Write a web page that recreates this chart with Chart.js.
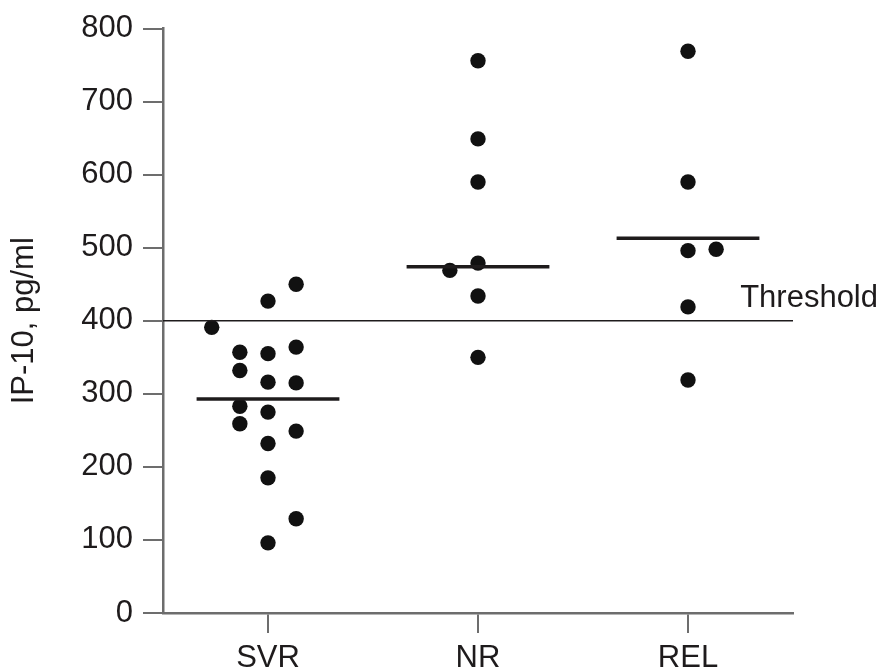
<!DOCTYPE html>
<html>
<head>
<meta charset="utf-8">
<script src="https://cdn.jsdelivr.net/npm/chart.js@4.4.0/dist/chart.umd.min.js"></script>
<style>
  html, body { margin: 0; padding: 0; background: #fff; }
  #wrap { width: 880px; height: 672px; position: relative; }
</style>
</head>
<body>
<div id="wrap"><canvas id="ip10Chart"></canvas></div>
<script>
// groups on the x axis
const groups = ['SVR', 'NR', 'REL'];

// IP-10 values (pg/ml) per group
const svrValues = [450, 427, 391, 357, 355, 364, 332, 316, 315, 283, 275, 259, 249, 232, 185, 129, 96];
const nrValues = [756, 649, 590, 479, 469, 434, 350];
const relValues = [769, 590, 496, 498, 419, 319];

// column slot of each dot inside its group (dots side by side)
const svrSlots = [1, 0, -2, -1, 0, 1, -1, 0, 1, -1, 0, -1, 1, 0, 0, 1, 0];
const nrSlots = [0, 0, 0, 0, -1, 0, 0];
const relSlots = [0, 0, 0, 1, 0, 0];

// medians and cut-off
const medians = [293, 474, 513];
const threshold = 400;

const yTicks = [0, 100, 200, 300, 400, 500, 600, 700, 800];

const slotStep = 0.134;
const medianHalf = 0.34;
const ink = '#1e1b1c';
const axisGray = '#6d6d6d';
const fontFamily = "'Liberation Sans', Arial, sans-serif";
const fontSize = 31;

function points(values, slots, groupIndex) {
  return values.map((v, i) => ({ x: groupIndex + 1 + slots[i] * slotStep, y: v }));
}

let datasets = [];

datasets.push({
  type: 'line',
  label: 'Threshold',
  data: [{ x: 0.5, y: threshold }, { x: groups.length + 0.5, y: threshold }],
  borderColor: ink,
  borderWidth: 1.6,
  pointRadius: 0,
  fill: false
});

medians.forEach((m, i) => {
  datasets.push({
    type: 'line',
    label: groups[i] + ' median',
    data: [{ x: i + 1 - medianHalf, y: m }, { x: i + 1 + medianHalf, y: m }],
    borderColor: ink,
    borderWidth: 3.5,
    pointRadius: 0,
    fill: false
  });
});

[[svrValues, svrSlots], [nrValues, nrSlots], [relValues, relSlots]].forEach((pair, i) => {
  datasets.push({
    type: 'scatter',
    label: groups[i],
    data: points(pair[0], pair[1], i),
    backgroundColor: '#111',
    borderWidth: 0,
    pointRadius: 7.7,
    clip: false
  });
});

// label of the threshold line, above its right end
const thresholdLabel = {
  id: 'thresholdLabel',
  afterDatasetsDraw(chart) {
    const ctx = chart.ctx;
    const y = chart.scales.y.getPixelForValue(threshold);
    ctx.save();
    ctx.fillStyle = ink;
    ctx.font = fontSize + 'px ' + fontFamily;
    ctx.textAlign = 'right';
    ctx.textBaseline = 'middle';
    ctx.fillText('Threshold', chart.width - 2, y - 22);
    ctx.restore();
  }
};

new Chart(document.getElementById('ip10Chart'), {
  type: 'scatter',
  data: { datasets: datasets },
  options: {
    responsive: true,
    maintainAspectRatio: false,
    animation: false,
    layout: { autoPadding: false, padding: { top: 25, right: 87, left: 0, bottom: 0 } },
    plugins: {
      legend: { display: false },
      tooltip: { enabled: false }
    },
    scales: {
      x: {
        type: 'linear',
        min: 0.5,
        max: groups.length + 0.5,
        afterBuildTicks: (scale) => { scale.ticks = groups.map((g, i) => ({ value: i + 1 })); },
        afterFit: (scale) => { scale.height = 59; },
        ticks: {
          color: ink,
          font: { family: fontFamily, size: fontSize },
          padding: 7,
          callback: (v) => groups[v - 1] || ''
        },
        grid: { drawOnChartArea: false, tickLength: 20, color: axisGray, lineWidth: 2 },
        border: { color: axisGray, width: 2.5 }
      },
      y: {
        min: 0,
        max: 800,
        afterBuildTicks: (scale) => { scale.ticks = yTicks.map(v => ({ value: v })); },
        afterFit: (scale) => { scale.width = 163; },
        ticks: {
          color: ink,
          font: { family: fontFamily, size: fontSize },
          padding: 10
        },
        grid: { drawOnChartArea: false, tickLength: 20, color: axisGray, lineWidth: 2 },
        border: { color: axisGray, width: 2.5 },
        title: {
          display: true,
          text: 'IP-10, pg/ml',
          color: ink,
          font: { family: fontFamily, size: fontSize },
          padding: { top: 6, bottom: 0 }
        }
      }
    }
  },
  plugins: [thresholdLabel]
});
</script>
</body>
</html>
